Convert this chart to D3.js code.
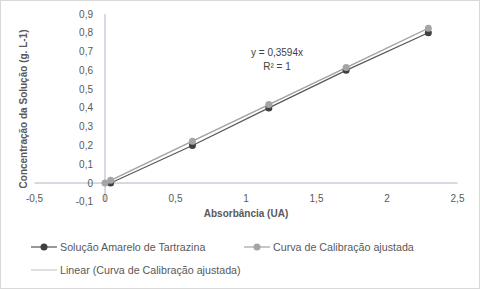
<!DOCTYPE html>
<html>
<head>
<meta charset="utf-8">
<script src="https://cdn.jsdelivr.net/npm/d3@7"></script>
<style>
  body { margin: 0; background: #fff; }
  text { font-family: "Liberation Sans", Arial, sans-serif; fill: #595959; }
</style>
</head>
<body>
<div class="chart"></div>
<script>
/*------------------------------- data -------------------------------*/

// absorbance (x) and concentration (y), g.L-1
const absorbancia = [0.04, 0.62, 1.162, 1.71, 2.293];
const concentracao = [0, 0.2, 0.4, 0.6, 0.8];

// adjusted curve (y = 0,3594x)
const absAjustada = [0, 0.04, 0.62, 1.162, 1.71, 2.293];
const concAjustada = [0, 0.0144, 0.2228, 0.4176, 0.6146, 0.8241];

const xTicks = [-0.5, 0, 0.5, 1, 1.5, 2, 2.5];
const yTicks = [-0.1, 0, 0.1, 0.2, 0.3, 0.4, 0.5, 0.6, 0.7, 0.8, 0.9];
const slope = 0.3594;

const legendNames = ["Solução Amarelo de Tartrazina", "Curva de Calibração ajustada", "Linear (Curva de Calibração ajustada)"];

const size = { width: 480, height: 289 };
const colors = { dark: "#595959", darkDot: "#404040", light: "#a5a5a5", trend: "#bfbfbf", axis: "#a9b7c6" };

const fmt = v => String(+v.toFixed(2)).replace(".", ",");

/*------------------------------- svg -------------------------------*/

const svg = d3.select(".chart").append("svg")
    .attr("width", size.width)
    .attr("height", size.height);

svg.append("rect")
    .attr("x", 0.5).attr("y", 0.5)
    .attr("width", size.width - 1).attr("height", size.height - 1)
    .attr("fill", "#fff").attr("stroke", "#d9d9d9");

const x = d3.scaleLinear().domain([-0.5, 2.5]).range([34.5, 457.5]);
const y = d3.scaleLinear().domain([-0.1, 0.9]).range([201.8, 14]);

// axes lines
svg.append("line")
    .attr("x1", x(-0.5)).attr("x2", x(2.5))
    .attr("y1", y(0)).attr("y2", y(0))
    .attr("stroke", colors.axis).attr("stroke-width", 1);
svg.append("line")
    .attr("x1", x(0)).attr("x2", x(0))
    .attr("y1", y(0.9)).attr("y2", y(-0.1))
    .attr("stroke", colors.axis).attr("stroke-width", 1);

// tick labels
svg.append("g").selectAll("text")
    .data(yTicks)
    .enter().append("text")
    .attr("x", 93)
    .attr("y", d => y(d) + 3.5)
    .attr("text-anchor", "end")
    .style("font-size", "10px")
    .text(d => fmt(d));

svg.append("g").selectAll("text")
    .data(xTicks)
    .enter().append("text")
    .attr("x", d => x(d))
    .attr("y", y(0) + 18.5)
    .attr("text-anchor", "middle")
    .style("font-size", "10px")
    .text(d => fmt(d));

// axis titles
svg.append("text")
    .attr("x", x(1))
    .attr("y", 217)
    .attr("text-anchor", "middle")
    .style("font-size", "10px")
    .style("font-weight", "bold")
    .text("Absorbância  (UA)");

svg.append("text")
    .attr("transform", "translate(27,109) rotate(-90)")
    .attr("text-anchor", "middle")
    .style("font-size", "10px")
    .style("font-weight", "bold")
    .text("Concentração da Solução (g. L-1)");

/*------------------------------- series -------------------------------*/

const line = d3.line().x(d => x(d[0])).y(d => y(d[1]));
const darkData = absorbancia.map((v, i) => [v, concentracao[i]]);
const lightData = absAjustada.map((v, i) => [v, concAjustada[i]]);

// trendline
const xMax = d3.max(absAjustada);
svg.append("path")
    .datum([[0, 0], [xMax, slope * xMax]])
    .attr("d", line)
    .attr("fill", "none").attr("stroke", colors.trend).attr("stroke-width", 1);

svg.append("path")
    .datum(darkData)
    .attr("d", line)
    .attr("fill", "none").attr("stroke", colors.dark).attr("stroke-width", 1.25);

svg.append("path")
    .datum(lightData)
    .attr("d", line)
    .attr("fill", "none").attr("stroke", colors.light).attr("stroke-width", 1.25);

svg.append("g").selectAll("circle")
    .data(darkData)
    .enter().append("circle")
    .attr("cx", d => x(d[0])).attr("cy", d => y(d[1]))
    .attr("r", 3.5).attr("fill", colors.darkDot);

svg.append("g").selectAll("circle")
    .data(lightData)
    .enter().append("circle")
    .attr("cx", d => x(d[0])).attr("cy", d => y(d[1]))
    .attr("r", 3.5).attr("fill", colors.light);

// equation
svg.append("text")
    .attr("x", 277).attr("y", 56)
    .attr("text-anchor", "middle")
    .style("font-size", "10px")
    .style("fill", "#404040")
    .text("y = 0,3594x");
svg.append("text")
    .attr("x", 277).attr("y", 70)
    .attr("text-anchor", "middle")
    .style("font-size", "10px")
    .style("fill", "#404040")
    .text("R² = 1");

/*------------------------------- legend -------------------------------*/

const legendItems = [
    { name: legendNames[0], color: colors.dark, dot: colors.darkDot, lx: 31, ly: 247 },
    { name: legendNames[1], color: colors.light, dot: colors.light, lx: 244, ly: 247 },
    { name: legendNames[2], color: colors.trend, dot: null, lx: 31, ly: 270 }
];

const legend = svg.append("g").attr("id", "legend");
const lg = legend.selectAll("g").data(legendItems).enter().append("g");

lg.append("line")
    .attr("x1", d => d.lx).attr("x2", d => d.lx + 26)
    .attr("y1", d => d.ly).attr("y2", d => d.ly)
    .attr("stroke", d => d.color).attr("stroke-width", d => d.dot ? 1.25 : 1);

lg.filter(d => d.dot).append("circle")
    .attr("cx", d => d.lx + 13).attr("cy", d => d.ly)
    .attr("r", 3.5).attr("fill", d => d.dot);

lg.append("text")
    .attr("x", d => d.lx + 29)
    .attr("y", d => d.ly + 3.8)
    .style("font-size", "10.7px")
    .text(d => d.name);
</script>
</body>
</html>
